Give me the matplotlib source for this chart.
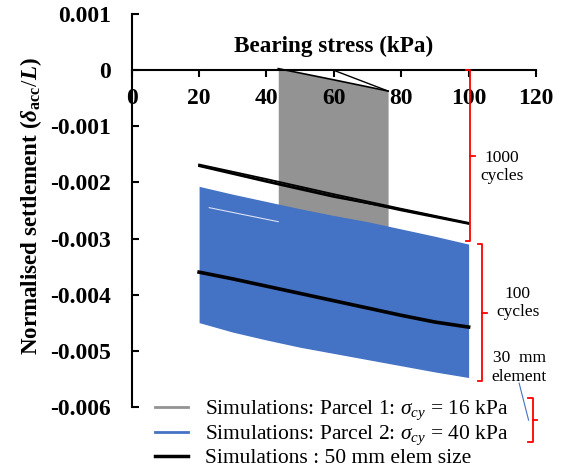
import numpy as np
import matplotlib
matplotlib.use('Agg')
import matplotlib.pyplot as plt
from matplotlib.lines import Line2D

plt.rcParams['font.family'] = ['Liberation Serif', 'DejaVu Serif']
plt.rcParams['mathtext.fontset'] = 'custom'
plt.rcParams['mathtext.rm'] = 'Liberation Serif'
plt.rcParams['mathtext.it'] = 'Liberation Serif:italic'
plt.rcParams['mathtext.bf'] = 'Liberation Serif:bold'
plt.rcParams['mathtext.bfit'] = 'Liberation Serif:bold:italic'

# Parcel 1 envelope (grey band)
p1_x = [43.5, 60, 76.1]
p1_upper = [0.00003, -0.00017, -0.00037]
p1_lower = [-0.0025, -0.0027, -0.0029]

# Parcel 2 envelope (blue band)
p2_x = [20, 30, 40, 50, 60, 70, 80, 90, 100]
p2_upper = [-0.00207, -0.00221, -0.00234, -0.00247, -0.00259, -0.00270, -0.00283, -0.00296, -0.00310]
p2_lower = [-0.00450, -0.00467, -0.00481, -0.00494, -0.00505, -0.00516, -0.00527, -0.00538, -0.00548]

# 50 mm element simulations
sim50_x = [20, 40, 60, 80, 100]
sim50_a = [-0.00168, -0.00194, -0.00221, -0.00247, -0.00272]
sim50_b = [-0.00170, -0.00197, -0.00224, -0.00250, -0.00274]
sim50_c = [-0.00171, -0.00199, -0.00226, -0.00248, -0.00273]
sim50_low_x = [20, 30, 40, 50, 60, 70, 80, 90, 100]
sim50_low = [-0.00360, -0.00372, -0.00385, -0.00398, -0.00411, -0.00424, -0.00437, -0.00449, -0.00458]

xticks = [0, 20, 40, 60, 80, 100, 120]
yticks = [0.001, 0, -0.001, -0.002, -0.003, -0.004, -0.005, -0.006]
ytick_labels = ['0.001', '0', '-0.001', '-0.002', '-0.003', '-0.004', '-0.005', '-0.006']

fig = plt.figure(figsize=(5.67, 4.75), dpi=100)
ax = fig.add_axes([0.2323, 0.1438, 0.7130, 0.8262])

ax.fill_between(p1_x, p1_upper, p1_lower, color='#939393', lw=0, zorder=1)
ax.plot(p1_x, p1_upper, color='black', lw=1.2, zorder=3)
ax.plot([60, 76.1], [0, -0.00037], color='black', lw=1, zorder=3)

ax.fill_between(p2_x, p2_upper, p2_lower, color='#4472C4', lw=0, zorder=2)
ax.plot([23, 43.5], [-0.00245, -0.0027], color='white', lw=0.8, alpha=0.8, zorder=2.5)

for s in (sim50_a, sim50_b, sim50_c):
    ax.plot(sim50_x, s, color='black', lw=1.3, zorder=3)
ax.plot(sim50_low_x, sim50_low, color='black', lw=2.6, zorder=3)

ax.set_xlim(0, 120)
ax.set_ylim(-0.006, 0.001)
ax.spines['top'].set_visible(False)
ax.spines['right'].set_visible(False)
ax.spines['bottom'].set_position(('data', 0))
ax.spines['left'].set_linewidth(1.5)
ax.spines['bottom'].set_linewidth(1.5)
ax.set_xticks(xticks)
ax.set_xticklabels([str(t) for t in xticks], fontsize=17, fontweight='bold')
ax.set_yticks(yticks)
ax.set_yticklabels(ytick_labels, fontsize=17, fontweight='bold')
ax.tick_params(axis='x', direction='out', length=5, width=1.5, pad=8)
ax.tick_params(axis='y', direction='in', length=5, width=1.5, pad=15)

ax.text(60, 0.00042, 'Bearing stress (kPa)', ha='center', va='center',
        fontsize=16.7, fontweight='bold')
fig.text(31 / 567, 0.566, r'Normalised settlement ($\mathbfit{\delta}_{\mathbf{acc}}/\mathbfit{L}$)',
         rotation=90, ha='center', va='center', fontsize=16.6, fontweight='bold')

# red brackets
brackets = [(100.4, 0.0, -0.00305), (104.0, -0.0031, -0.00555), (119.0, -0.00585, -0.00663)]
for bx, top, bot in brackets:
    mid = (top + bot) / 2
    ax.plot([bx - 1.3, bx, bx, bx - 1.3], [top, top, bot, bot], color='red', lw=1.3,
            clip_on=False, zorder=4)
    ax.plot([bx, bx + 1.4], [mid, mid], color='red', lw=1.3, clip_on=False, zorder=4)

ax.text(109.8, -0.00172, '1000\ncycles', ha='center', va='center', fontsize=12.5, clip_on=False)
ax.text(114.6, -0.00415, '100\ncycles', ha='center', va='center', fontsize=12.5, clip_on=False)
ax.text(115, -0.0053, '30  mm\nelement', ha='center', va='center', fontsize=12.5, clip_on=False)
ax.plot([115, 117.8], [-0.00558, -0.00624], color='#4472C4', lw=0.8, clip_on=False)

handles = [Line2D([], [], color='#939393', lw=2),
           Line2D([], [], color='#4472C4', lw=2),
           Line2D([], [], color='black', lw=2.5)]
labels = [r'Simulations: Parcel 1: $\sigma_{cy}$ = 16 kPa',
          r'Simulations: Parcel 2: $\sigma_{cy}$ = 40 kPa',
          'Simulations : 50 mm elem size']
fig.legend(handles, labels, loc='upper left', bbox_to_anchor=(155 / 567, 0.160),
           frameon=False, fontsize=15.5, handlelength=1.55, handletextpad=0.75,
           labelspacing=0.05, borderpad=0, borderaxespad=0)

fig.savefig('out.png', dpi=100)
